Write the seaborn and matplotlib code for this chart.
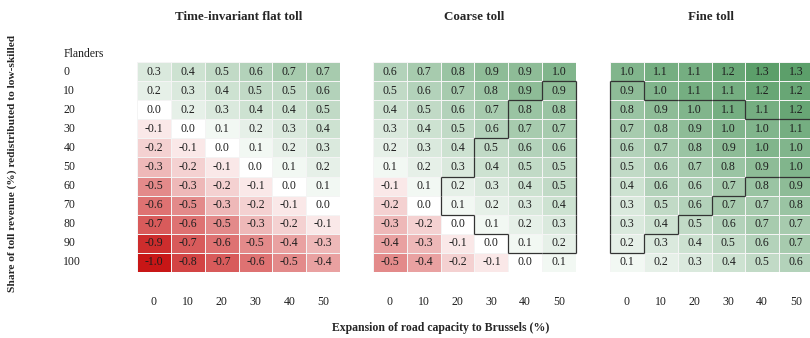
import numpy as np
import pandas as pd
import matplotlib
matplotlib.use("Agg")
import matplotlib.pyplot as plt
import seaborn as sns
from matplotlib.colors import LinearSegmentedColormap
from matplotlib.collections import LineCollection

# Expansion of road capacity to Brussels (%)
capacity = [0, 10, 20, 30, 40, 50]
# Share of toll revenue redistributed to low-skilled (%)
redistribution = [0, 10, 20, 30, 40, 50, 60, 70, 80, 90, 100]

flat_toll = [
    [0.3, 0.4, 0.5, 0.6, 0.7, 0.7],
    [0.2, 0.3, 0.4, 0.5, 0.5, 0.6],
    [0.0, 0.2, 0.3, 0.4, 0.4, 0.5],
    [-0.1, 0.0, 0.1, 0.2, 0.3, 0.4],
    [-0.2, -0.1, 0.0, 0.1, 0.2, 0.3],
    [-0.3, -0.2, -0.1, 0.0, 0.1, 0.2],
    [-0.5, -0.3, -0.2, -0.1, 0.0, 0.1],
    [-0.6, -0.5, -0.3, -0.2, -0.1, 0.0],
    [-0.7, -0.6, -0.5, -0.3, -0.2, -0.1],
    [-0.9, -0.7, -0.6, -0.5, -0.4, -0.3],
    [-1.0, -0.8, -0.7, -0.6, -0.5, -0.4],
]

coarse_toll = [
    [0.6, 0.7, 0.8, 0.9, 0.9, 1.0],
    [0.5, 0.6, 0.7, 0.8, 0.9, 0.9],
    [0.4, 0.5, 0.6, 0.7, 0.8, 0.8],
    [0.3, 0.4, 0.5, 0.6, 0.7, 0.7],
    [0.2, 0.3, 0.4, 0.5, 0.6, 0.6],
    [0.1, 0.2, 0.3, 0.4, 0.5, 0.5],
    [-0.1, 0.1, 0.2, 0.3, 0.4, 0.5],
    [-0.2, 0.0, 0.1, 0.2, 0.3, 0.4],
    [-0.3, -0.2, 0.0, 0.1, 0.2, 0.3],
    [-0.4, -0.3, -0.1, 0.0, 0.1, 0.2],
    [-0.5, -0.4, -0.2, -0.1, 0.0, 0.1],
]

fine_toll = [
    [1.0, 1.1, 1.1, 1.2, 1.3, 1.3],
    [0.9, 1.0, 1.1, 1.1, 1.2, 1.2],
    [0.8, 0.9, 1.0, 1.1, 1.1, 1.2],
    [0.7, 0.8, 0.9, 1.0, 1.0, 1.1],
    [0.6, 0.7, 0.8, 0.9, 1.0, 1.0],
    [0.5, 0.6, 0.7, 0.8, 0.9, 1.0],
    [0.4, 0.6, 0.6, 0.7, 0.8, 0.9],
    [0.3, 0.5, 0.6, 0.7, 0.7, 0.8],
    [0.3, 0.4, 0.5, 0.6, 0.7, 0.7],
    [0.2, 0.3, 0.4, 0.5, 0.6, 0.7],
    [0.1, 0.2, 0.3, 0.4, 0.5, 0.6],
]

# Highlighted combinations (outlined regions)
coarse_region = [
    [0, 0, 0, 0, 0, 0],
    [0, 0, 0, 0, 0, 1],
    [0, 0, 0, 0, 1, 1],
    [0, 0, 0, 0, 1, 1],
    [0, 0, 0, 1, 1, 1],
    [0, 0, 0, 1, 1, 1],
    [0, 0, 1, 1, 1, 1],
    [0, 0, 1, 1, 1, 1],
    [0, 0, 0, 1, 1, 1],
    [0, 0, 0, 0, 1, 1],
    [0, 0, 0, 0, 0, 0],
]

fine_region = [
    [0, 0, 0, 0, 0, 0],
    [1, 0, 0, 0, 0, 0],
    [1, 1, 1, 1, 0, 0],
    [1, 1, 1, 1, 1, 1],
    [1, 1, 1, 1, 1, 1],
    [1, 1, 1, 1, 1, 1],
    [1, 1, 1, 1, 0, 0],
    [1, 1, 1, 0, 0, 0],
    [1, 1, 0, 0, 0, 0],
    [1, 0, 0, 0, 0, 0],
    [0, 0, 0, 0, 0, 0],
]

titles = ["Time-invariant flat toll", "Coarse toll", "Fine toll"]
panels = [flat_toll, coarse_toll, fine_toll]
regions = [None, coarse_region, fine_region]

sns.set_theme(style="white")
plt.rcParams["font.family"] = ["Liberation Serif", "DejaVu Serif"]

VMIN, VMAX = -1.0, 1.3
cmap = LinearSegmentedColormap.from_list(
    "red_white_green",
    [(0.0, "#c81616"), ((0 - VMIN) / (VMAX - VMIN), "#ffffff"), (1.0, "#5c9f6a")],
)


def outline(ax, mask):
    m = np.asarray(mask, dtype=bool)
    nr, nc = m.shape
    segs = []
    for i in range(nr):
        for j in range(nc):
            if not m[i, j]:
                continue
            if i == 0 or not m[i - 1, j]:
                segs.append([(j, i), (j + 1, i)])
            if i == nr - 1 or not m[i + 1, j]:
                segs.append([(j, i + 1), (j + 1, i + 1)])
            if j == 0 or not m[i, j - 1]:
                segs.append([(j, i), (j, i + 1)])
            if j == nc - 1 or not m[i, j + 1]:
                segs.append([(j + 1, i), (j + 1, i + 1)])
    ax.add_collection(LineCollection(segs, colors="#333333", linewidths=0.9,
                                     clip_on=False, zorder=4))


fig = plt.figure(figsize=(8.1, 3.38), dpi=100)
W, H = 810, 338
lefts = [137, 373, 610]
ax_w, ax_top, ax_bot = 203, 62, 272

for k, (vals, title, region) in enumerate(zip(panels, titles, regions)):
    ax = fig.add_axes([lefts[k] / W, 1 - ax_bot / H, ax_w / W, (ax_bot - ax_top) / H])
    df = pd.DataFrame(vals, index=redistribution, columns=capacity)
    sns.heatmap(df, ax=ax, cmap=cmap, vmin=VMIN, vmax=VMAX, cbar=False,
                annot=True, fmt=".1f",
                annot_kws={"fontsize": 8.5, "color": "#1e1e1e"},
                linewidths=0.5, linecolor="#f4f4f4")
    if region is not None:
        outline(ax, region)
    ax.set_title(title, fontsize=9.4, fontweight="bold", pad=30)
    ax.set_xlabel("")
    ax.set_ylabel("")
    ax.set_xticklabels(capacity, rotation=0, fontsize=8.5)
    ax.tick_params(axis="x", length=0, pad=17, colors="#1e1e1e")
    if k == 0:
        ax.set_yticklabels(redistribution, rotation=0, fontsize=8.5, ha="left")
        ax.tick_params(axis="y", length=0, pad=53, colors="#1e1e1e")
        ax.annotate("Flanders", xy=(0, -0.4), xycoords=("axes fraction", "data"),
                    xytext=(-53, 0), textcoords="offset points",
                    ha="left", va="center", fontsize=8.5, color="#1e1e1e",
                    annotation_clip=False)
    else:
        ax.set_yticks([])

fig.text(12 / W, 1 - 163 / H,
         "Share of toll revenue (%) redistributed to low-skilled",
         rotation=90, ha="center", va="center", fontsize=8.2, fontweight="bold")
fig.text(441 / W, 1 - 328 / H, "Expansion of road capacity to Brussels (%)",
         ha="center", va="center", fontsize=8.5, fontweight="bold")

fig.savefig("out.png", dpi=100)
